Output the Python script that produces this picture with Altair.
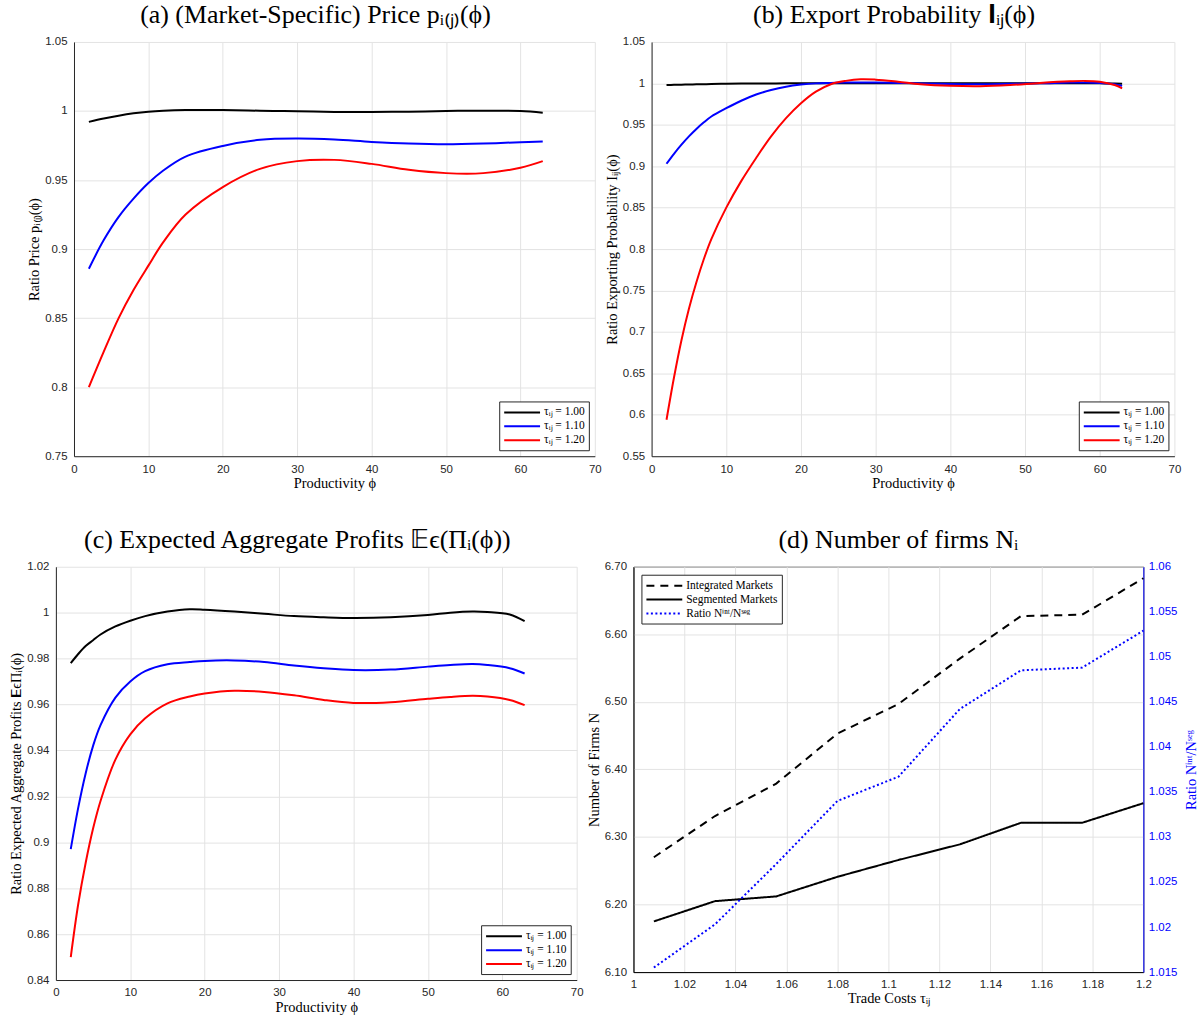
import altair as alt
import pandas as pd

# ---------------- data ----------------
TAU_LABELS = ["τᵢⱼ = 1.00", "τᵢⱼ = 1.10", "τᵢⱼ = 1.20"]
TAU_COLORS = ["#000000", "#0000ff", "#ff0000"]

# (a) market-specific price ratio
phi_a = [2, 4, 6, 8, 10, 12, 15, 20, 25, 30, 35, 40, 45, 50, 55, 60, 63]
price_t100 = [0.9921, 0.9945, 0.9966, 0.9983, 0.9995, 1.0002, 1.0007, 1.0007, 1.0002,
              0.9998, 0.9993, 0.9993, 0.9995, 1.0000, 1.0002, 1.0000, 0.9988]
price_t110 = [0.8858, 0.9065, 0.9233, 0.9365, 0.9478, 0.9569, 0.9670, 0.9747, 0.9791,
              0.9800, 0.9793, 0.9776, 0.9764, 0.9759, 0.9764, 0.9774, 0.9779]
price_t120 = [0.8000, 0.8257, 0.8500, 0.8704, 0.8880, 0.9050, 0.9250, 0.9449, 0.9581,
              0.9637, 0.9646, 0.9617, 0.9574, 0.9550, 0.9550, 0.9589, 0.9637]

# (b) export probability ratio
phi_b = [2, 3, 4, 5, 6, 7, 8, 10, 12, 14, 16, 18, 20, 22, 24, 26, 28, 30, 33, 36,
         40, 44, 48, 52, 56, 58, 60, 62, 63]
export_t100 = [0.9980, 0.9982, 0.9984, 0.9986, 0.9988, 0.9990, 0.9992, 0.9995, 0.9997,
               0.9998, 0.9999, 1.0000, 1.0000, 1.0000, 1.0000, 1.0000, 1.0000, 1.0000,
               1.0000, 1.0000, 1.0000, 1.0000, 1.0000, 1.0000, 1.0000, 1.0000, 1.0000,
               0.9998, 0.9995]
export_t110 = [0.9030, 0.9150, 0.9260, 0.9360, 0.9450, 0.9530, 0.9600, 0.9700, 0.9790,
               0.9865, 0.9920, 0.9960, 0.9985, 1.0000, 1.0005, 1.0010, 1.0010, 1.0010,
               1.0005, 1.0000, 0.9992, 0.9990, 0.9995, 1.0000, 1.0010, 1.0010, 1.0005,
               0.9990, 0.9970]
export_t120 = [0.5940, 0.6450, 0.6900, 0.7280, 0.7600, 0.7880, 0.8120, 0.8500, 0.8820,
               0.9100, 0.9360, 0.9580, 0.9760, 0.9900, 0.9990, 1.0030, 1.0050, 1.0045,
               1.0020, 0.9990, 0.9970, 0.9965, 0.9980, 1.0005, 1.0025, 1.0030, 1.0020,
               0.9980, 0.9940]

# (c) expected aggregate profits ratio
phi_c = [2, 3, 4, 5, 6, 8, 10, 12, 15, 18, 20, 24, 28, 32, 36, 40, 45, 50, 53, 56, 58, 61, 63]
profit_t100 = [0.9780, 0.9820, 0.9855, 0.9880, 0.9905, 0.9940, 0.9965, 0.9985, 1.0005,
               1.0015, 1.0013, 1.0005, 0.9995, 0.9985, 0.9980, 0.9977, 0.9980, 0.9990,
               1.0000, 1.0005, 1.0003, 0.9992, 0.9963]
profit_t110 = [0.8970, 0.9150, 0.9300, 0.9420, 0.9510, 0.9630, 0.9700, 0.9745, 0.9775,
               0.9785, 0.9790, 0.9792, 0.9785, 0.9770, 0.9758, 0.9750, 0.9752, 0.9765,
               0.9772, 0.9776, 0.9772, 0.9758, 0.9735]
profit_t120 = [0.8500, 0.8730, 0.8910, 0.9060, 0.9180, 0.9360, 0.9470, 0.9540, 0.9605,
               0.9635, 0.9648, 0.9660, 0.9655, 0.9640, 0.9620, 0.9607, 0.9610, 0.9625,
               0.9633, 0.9638, 0.9635, 0.9620, 0.9597]

# (d) number of firms against trade costs
trade_cost = [1.008, 1.032, 1.056, 1.080, 1.104, 1.128, 1.152, 1.176, 1.200]
n_integrated = [6.270, 6.331, 6.379, 6.453, 6.497, 6.564, 6.627, 6.629, 6.683]
n_segmented = [6.175, 6.205, 6.212, 6.241, 6.266, 6.289, 6.321, 6.321, 6.350]
n_ratio = [1.0155, 1.0203, 1.0270, 1.0340, 1.0367, 1.0442, 1.0485, 1.0488, 1.0529]

SERIES_D = ["Integrated Markets", "Segmented Markets", "Ratio Nⁱⁿᵗ/Nˢᵉᵍ"]

# ---------------- styling ----------------
SERIF = "Liberation Serif"
SANS = "Liberation Sans"
AX_DARK = "#262626"
GRID = "#e3e3e3"


def long_frame(phi, series):
    rows = []
    for label, values in zip(TAU_LABELS, series):
        for p, v in zip(phi, values):
            rows.append({"phi": p, "value": v, "tau": label})
    return pd.DataFrame(rows)


def axis(title, values, fmt="~r", **kw):
    opts = dict(title=title, values=values, format=fmt, ticks=False, grid=True,
                gridColor=GRID, gridWidth=1, domainColor=AX_DARK, domainWidth=1,
                labelFont=SANS, labelFontSize=11.5, labelColor=AX_DARK, labelPadding=7,
                labelFlush=False, labelOverlap=False,
                titleFont=SERIF, titleFontSize=14.5, titleFontWeight="normal",
                titleColor="black", titlePadding=3)
    opts.update(kw)
    return alt.Axis(**opts)


def title(text, dx):
    return alt.TitleParams(text=text, font=SERIF, fontSize=26, fontWeight="normal",
                           color="black", anchor="middle", offset=8, dx=dx)


def legend(orient, offset, h):
    # a wide horizontal stroke path (12*h px long) keeps the legend rows compact
    return alt.Legend(title=None, orient=orient, offset=offset, strokeColor=AX_DARK,
                      fillColor="white", padding=4,
                      symbolType=f"M-{h},0H{h}", symbolSize=144,
                      symbolStrokeWidth=2, symbolOffset=6 * h - 6,
                      labelOffset=12 * h - 21, labelFont=SERIF, labelFontSize=11.5,
                      labelColor="black", rowPadding=1, cornerRadius=0)


def ratio_panel(df, head, ytitle, ydomain, yticks, width, height):
    return alt.Chart(df).mark_line(strokeWidth=2, interpolate="catmull-rom", clip=True).encode(
        x=alt.X("phi:Q", scale=alt.Scale(domain=[0, 70], nice=False),
                axis=axis("Productivity ϕ", list(range(0, 71, 10)), titlePadding=2)),
        y=alt.Y("value:Q", scale=alt.Scale(domain=ydomain, nice=False, zero=False),
                axis=axis(ytitle, yticks)),
        color=alt.Color("tau:N", scale=alt.Scale(domain=TAU_LABELS, range=TAU_COLORS),
                        legend=legend("bottom-right", 6, 3)),
    ).properties(width=width, height=height, title=title(head, -19),
                 view=alt.ViewBackground(stroke=None))


panel_a = ratio_panel(
    long_frame(phi_a, [price_t100, price_t110, price_t120]),
    "(a) (Market-Specific) Price pᵢ₍ⱼ₎(ϕ)", "Ratio Price pᵢ₍ⱼ₎(ϕ)",
    [0.75, 1.05], [0.75, 0.8, 0.85, 0.9, 0.95, 1.0, 1.05], 523, 416)

panel_b = ratio_panel(
    long_frame(phi_b, [export_t100, export_t110, export_t120]),
    "(b) Export Probability 𝐈ᵢⱼ(ϕ)", "Ratio Exporting Probability Iᵢⱼ(ϕ)",
    [0.55, 1.05], [0.55, 0.6, 0.65, 0.7, 0.75, 0.8, 0.85, 0.9, 0.95, 1.0, 1.05], 525, 416)

panel_c = ratio_panel(
    long_frame(phi_c, [profit_t100, profit_t110, profit_t120]),
    "(c) Expected Aggregate Profits 𝔼ϵ(Πᵢ(ϕ))", "Ratio Expected Aggregate Profits 𝐄ϵΠᵢ(ϕ)",
    [0.84, 1.02], [0.84, 0.86, 0.88, 0.9, 0.92, 0.94, 0.96, 0.98, 1.0, 1.02], 523, 415)

# ---- panel (d): levels on the left axis, ratio on the right axis ----
levels = pd.DataFrame(
    [{"tau": t, "N": v, "series": SERIES_D[0]} for t, v in zip(trade_cost, n_integrated)]
    + [{"tau": t, "N": v, "series": SERIES_D[1]} for t, v in zip(trade_cost, n_segmented)]
)
ratio = pd.DataFrame({"tau": trade_cost, "R": n_ratio, "series": SERIES_D[2]})

x_d = alt.X("tau:Q", scale=alt.Scale(domain=[1.0, 1.2], nice=False),
            axis=axis("Trade Costs τᵢⱼ", [1.0, 1.02, 1.04, 1.06, 1.08, 1.1, 1.12, 1.14,
                                          1.16, 1.18, 1.2], domainColor="black",
                      labelPadding=6, titlePadding=2))
legend_d = legend("top-left", 8, 3)
color_d = alt.Color("series:N", scale=alt.Scale(domain=SERIES_D,
                                                range=["#000000", "#000000", "#0000ff"]),
                    legend=legend_d)
dash_d = alt.StrokeDash("series:N", scale=alt.Scale(domain=SERIES_D,
                                                    range=[[8, 6], [1, 0], [2, 2.5]]),
                        legend=legend_d)

left_lines = alt.Chart(levels).mark_line(strokeWidth=2).encode(
    x=x_d,
    y=alt.Y("N:Q", scale=alt.Scale(domain=[6.1, 6.7], nice=False, zero=False),
            axis=axis("Number of Firms N", [6.1, 6.2, 6.3, 6.4, 6.5, 6.6, 6.7], fmt=".2f",
                      domainColor="black")),
    color=color_d, strokeDash=dash_d,
)
right_line = alt.Chart(ratio).mark_line(strokeWidth=2).encode(
    x=x_d,
    y=alt.Y("R:Q", scale=alt.Scale(domain=[1.015, 1.06], nice=False, zero=False),
            axis=axis("Ratio Nⁱⁿᵗ/Nˢᵉᵍ", [1.015, 1.02, 1.025, 1.03, 1.035, 1.04, 1.045,
                                          1.05, 1.055, 1.06], orient="right", grid=False,
                      domainColor="#0000ff", labelColor="#0000ff", titleColor="#0000ff",
                      titleAngle=270, titleBaseline="top", labelPadding=5,
                      titlePadding=8)),
    color=color_d, strokeDash=dash_d,
)
panel_d = alt.layer(left_lines, right_line).resolve_scale(y="independent").properties(
    width=512, height=407, title=title("(d) Number of firms Nᵢ", 10),
    view=alt.ViewBackground(stroke="black", strokeWidth=1))

indep = dict(color="independent", strokeDash="independent")
top_row = alt.hconcat(panel_a, panel_b, spacing=2).resolve_scale(**indep)
bottom_row = alt.hconcat(panel_c, panel_d, spacing=2).resolve_scale(**indep)

chart = alt.vconcat(top_row, bottom_row, spacing=36, center=True).resolve_scale(
    **indep
).configure(
    padding={"left": 8, "top": 0, "right": 0, "bottom": 0},
    background="white",
).configure_view(stroke=None)

chart.save("out.html", embed_options={"renderer": "svg", "actions": False})
